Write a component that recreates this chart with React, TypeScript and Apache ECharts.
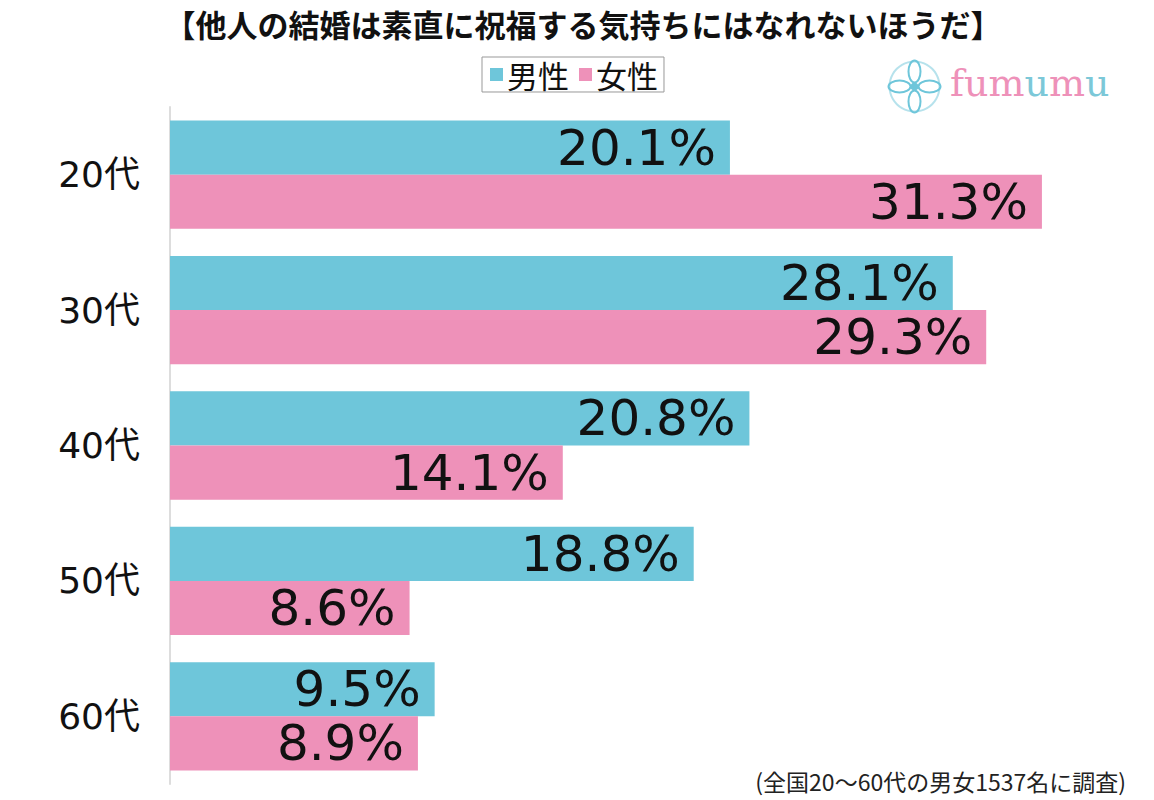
import React, { useEffect, useRef } from "react";
import * as echarts from "echarts";

const categories = ["20代", "30代", "40代", "50代", "60代"];
const male = [20.1, 28.1, 20.8, 18.8, 9.5];
const female = [31.3, 29.3, 14.1, 8.6, 8.9];
const seriesNames = ["男性", "女性"];
const titleText = "【他人の結婚は素直に祝福する気持ちにはなれないほうだ】";
const noteText = "(全国20～60代の男女1537名に調査)";

const BLUE = "#6EC6DA";
const PINK = "#EE91B9";
const NUMFONT = "'DejaVu Sans', 'Noto Sans CJK JP', sans-serif";
const JFONT = "'Noto Sans CJK JP', sans-serif";

export default function App() {
  const ref = useRef<HTMLDivElement>(null);
  useEffect(() => {
    if (!ref.current) return;
    const chart = echarts.init(ref.current, null, { renderer: "svg" });
    const labelCfg = {
      show: true,
      position: "insideRight",
      distance: 14,
      color: "#111",
      fontSize: 50,
      fontFamily: NUMFONT,
      formatter: (p: any) => p.value.toFixed(1) + "%",
    };
    chart.setOption({
      animation: false,
      backgroundColor: "#fff",
      title: {
        text: titleText,
        left: 578,
        textAlign: "center",
        top: 3,
        textStyle: { fontSize: 31, fontWeight: "bold", color: "#111", fontFamily: JFONT },
      },
      legend: {
        data: seriesNames,
        left: 482,
        top: 57,
        itemWidth: 13,
        itemHeight: 13,
        itemGap: 10,
        icon: "rect",
        borderColor: "#999",
        borderWidth: 1,
        padding: [2, 6, 2, 8],
        textStyle: { fontSize: 31, color: "#111", fontFamily: JFONT, padding: [0, 0, 0, -1] },
      },
      grid: { left: 170, width: 975, top: 107, bottom: 16, containLabel: false },
      xAxis: {
        type: "value",
        min: 0,
        max: 35,
        show: false,
      },
      yAxis: {
        type: "category",
        data: categories,
        inverse: true,
        axisLine: { show: true, lineStyle: { color: "#dddddd", width: 2 } },
        axisTick: { show: false },
        axisLabel: { fontSize: 36, color: "#111", margin: 30, fontFamily: NUMFONT },
      },
      series: [
        {
          name: seriesNames[0],
          type: "bar",
          data: male,
          barGap: "0%",
          barCategoryGap: "20%",
          itemStyle: { color: BLUE },
          label: labelCfg,
        },
        {
          name: seriesNames[1],
          type: "bar",
          data: female,
          barGap: "0%",
          barCategoryGap: "20%",
          itemStyle: { color: PINK },
          label: labelCfg,
        },
      ],
      graphic: [
        {
          type: "text",
          x: 1126,
          y: 781,
          style: {
            text: noteText,
            fontSize: 23,
            lineHeight: 24,
            fill: "#222",
            fontFamily: JFONT,
            align: "right",
            verticalAlign: "middle",
          },
        },
        {
          type: "group",
          left: 886,
          top: 58,
          children: [
            { type: "ring", shape: { cx: 28, cy: 28, r: 26, r0: 24 }, style: { fill: BLUE, opacity: 0.5 } },
            { type: "ellipse", shape: { cx: 28, cy: 13, rx: 6, ry: 11 }, style: { fill: "none", stroke: BLUE, lineWidth: 2 } },
            { type: "ellipse", shape: { cx: 28, cy: 43, rx: 6, ry: 11 }, style: { fill: "none", stroke: BLUE, lineWidth: 2 } },
            { type: "ellipse", shape: { cx: 13, cy: 28, rx: 11, ry: 6 }, style: { fill: "none", stroke: BLUE, lineWidth: 2 } },
            { type: "ellipse", shape: { cx: 43, cy: 28, rx: 11, ry: 6 }, style: { fill: "none", stroke: BLUE, lineWidth: 2 } },
            { type: "circle", shape: { cx: 28, cy: 28, r: 4 }, style: { fill: BLUE } },
          ],
        },
        {
          type: "text",
          left: 950,
          top: 64,
          style: {
            rich: {
              p: { fill: PINK, fontSize: 38, fontFamily: "'DejaVu Serif', serif" },
              b: { fill: "#7CC8D8", fontSize: 38, fontFamily: "'DejaVu Serif', serif" },
            },
            text: "{p|fum}{b|u}{p|m}{b|u}",
          },
        },
      ],
    });
    return () => chart.dispose();
  }, []);
  return (
    <div
      ref={ref}
      style={{ position: "absolute", left: 0, top: 0, width: 1154, height: 800 }}
    />
  );
}
